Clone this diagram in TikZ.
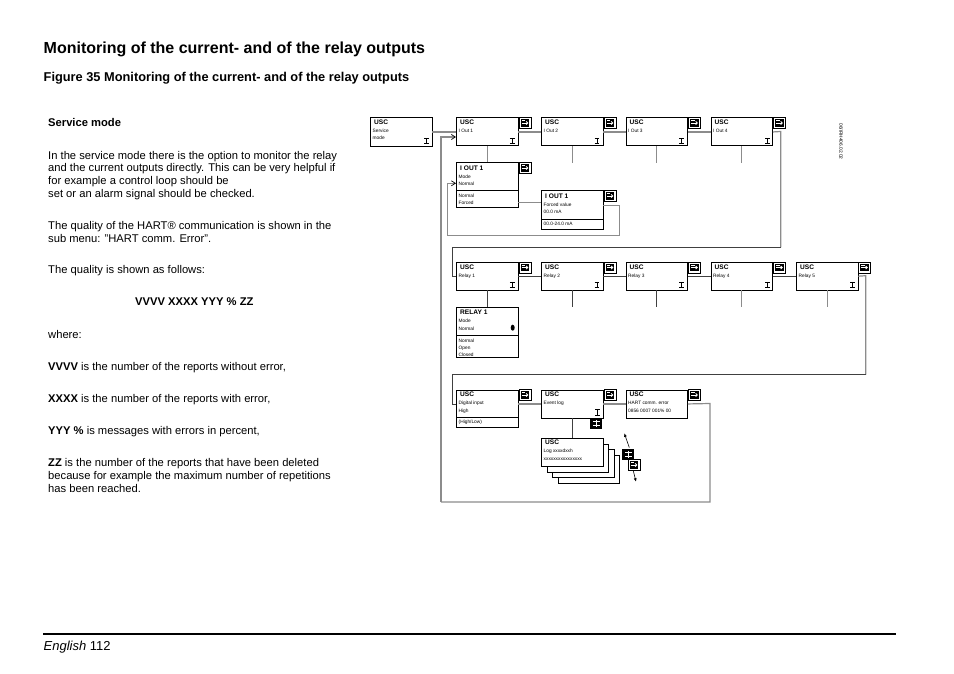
\documentclass[tikz,border=0pt]{standalone}
\usepackage{fontspec}
\setmainfont{Liberation Sans}
\usetikzlibrary{arrows.meta}
\definecolor{linkgray}{gray}{0.55}
\tikzset{
    menubox/.style={draw,line width=0.9,fill=white,minimum width=61.5,minimum height=28,inner sep=0},
    menutitle/.style={anchor=base west,inner sep=0,font=\fontsize{6.6}{7}\selectfont\bfseries},
    menutext/.style={anchor=base west,inner sep=0,font=\fontsize{4.8}{5}\selectfont},
    bodytext/.style={anchor=north west,inner sep=0,align=left,font=\fontsize{11.2}{12.8}\selectfont},
    graylink/.style={draw=linkgray,line width=1.2},
    darklink/.style={draw=black!75,line width=0.8},
    linktip/.style={-{Straight Barb[length=4,width=5,color=black,line width=0.7]}},
    pics/keyicon/.style={code={
        \draw[line width=1,fill=white] (0,0) rectangle (12,11);% outer frame
        \fill (1.6,1.6) rectangle (10.4,9.4);% black key
        \draw[white,line width=0.8,-{Straight Barb[length=1.6,width=3]}] (2.8,5.5) -- (9.4,5.5);% arrow on the key
        \draw[white,line width=0.5] (2.8,3.2) -- (6,3.2);
    }},
    pics/blackkey/.style={code={
        \fill (0,0) rectangle (12,11.5);% solid key
        \draw[white,line width=0.7] (2.5,4) -- (9.5,4) (2.5,7.5) -- (9.5,7.5) (6,2) -- (6,9.5);
    }},
    pics/cursor/.style={code={
        \draw[line width=0.7] (-2.4,-2.6) -- (2.4,-2.6) (0,-2.6) -- (0,2.6) (-2.4,2.6) -- (2.4,2.6);
    }},
}
% box, title and first text line
\newcommand{\menubox}[6][7.2]{%
    \node[menubox,anchor=north west,minimum height=#5] (#2) at (#3,#4) {};
    \node[menutitle] (#2title) at (#3+4,#4+#1) {\menuname};
    \node[menutext] (#2text) at (#3+2.5,#4+#1+8) {#6};
}
\newcommand{\menuname}{USC}
\begin{document}
\begin{tikzpicture}[x=1pt,y=-1pt]
    \useasboundingbox (0,0) rectangle (954,674);
    % Headings
    \node[anchor=base west,inner sep=0,font=\fontsize{16}{18}\selectfont\bfseries] (head) at (43.5,54) {Monitoring of the current- and of the relay outputs};
    \node[anchor=base west,inner sep=0,font=\fontsize{12.8}{14}\selectfont\bfseries] (figure) at (43.5,81.3) {Figure 35 Monitoring of the current- and of the relay outputs};
    % Left column
    \node[bodytext] (service) at (48,118.3) {\textbf{Service mode}};
    \node[bodytext] (intro) at (48,150.8) {In the service mode there is the option to monitor the relay\\and the current outputs directly. This can be very helpful if\\for example a control loop should be\\set or an alarm signal should be checked.};
    \node[bodytext] (hart) at (48,221.2) {The quality of the HART® communication is shown in the\\sub menu: "HART comm. Error".};
    \node[bodytext] (quality) at (48,265.5) {The quality is shown as follows:};
    \node[bodytext] (format) at (135,298) {\textbf{VVVV XXXX YYY \% ZZ}};
    \node[bodytext] (where) at (48,329.7) {where:};
    \node[bodytext] (vvvv) at (48,362.2) {\textbf{VVVV} is the number of the reports without error,};
    \node[bodytext] (xxxx) at (48,394.2) {\textbf{XXXX} is the number of the reports with error,};
    \node[bodytext] (yyy) at (48,426.2) {\textbf{YYY \%} is messages with errors in percent,};
    \node[bodytext] (zz) at (48,458.2) {\textbf{ZZ} is the number of the reports that have been deleted\\because for example the maximum number of repetitions\\has been reached.};
    % Footer
    \draw[line width=1.5] (43,634) -- (896,634);
    \node[anchor=base west,inner sep=0,font=\fontsize{13}{15}\selectfont] (page) at (43.5,650) {\textit{English} 112};
    % Drawing number
    \node[rotate=-90,inner sep=0,font=\fontsize{4.8}{5}\selectfont] (drawno) at (841,141.5) {06/IRH406.02.02};
    % First row
    \menubox{service}{370}{117}{29}{Service}
    \node[menutext] (servicetext2) at (372.5,139.8) {mode};
    \menubox{outa}{456}{117.5}{28}{I Out 1}
    \menubox{outb}{541}{117.5}{28}{I Out 2}
    \menubox{outc}{625.5}{117.5}{28}{I Out 3}
    \menubox{outd}{710.5}{117.5}{28}{I Out 4}
    \pic at (426.7,140.7) {cursor};
    \foreach \x in {512.3,597,681.5,767.5} \pic at (\x,140.7) {cursor};
    \foreach \x in {519,604,688.5,773.5} \pic at (\x,117.5) {keyicon};
    % I OUT 1 menu
    \renewcommand{\menuname}{I OUT 1}
    \menubox[8.2]{iout}{456}{162.5}{45}{Mode}
    \node[menutext] (iouttext2) at (458.5,185.3) {Normal};
    \draw[line width=0.8] (456,190.5) -- (517.5,190.5);
    \node[menutext] (iouttext3) at (458.5,197.2) {Normal};
    \node[menutext] (iouttext4) at (458.5,204.2) {Forced};
    \pic at (519,162.5) {keyicon};
    \menubox[8.2]{forced}{541}{190.5}{39}{Forced value}
    \node[menutext] (forcedtext2) at (543.5,214) {00.0 mA};
    \draw[line width=0.8] (541,219.5) -- (602.5,219.5);
    \node[menutext] (forcedtext3) at (543.5,225.7) {00.0-24.0 mA};
    \pic at (604,190.5) {keyicon};
    % Second row
    \renewcommand{\menuname}{USC}
    \menubox{relaya}{456}{262}{27.5}{Relay 1}
    \menubox{relayb}{541}{262}{27.5}{Relay 2}
    \menubox{relayc}{625.5}{262}{27.5}{Relay 3}
    \menubox{relayd}{710.5}{262}{27.5}{Relay 4}
    \menubox{relaye}{796}{262}{27.5}{Relay 5}
    \foreach \x in {512.3,597,681.5,767.5,852.5} \pic at (\x,284.5) {cursor};
    \foreach \x in {519,604,688.5,773.5,858.5} \pic at (\x,262) {keyicon};
    % RELAY 1 menu
    \renewcommand{\menuname}{RELAY 1}
    \menubox[8]{relay}{456}{306.7}{50.5}{Mode}
    \node[menutext] (relaytext2) at (458.5,330.3) {Normal};
    \draw[line width=0.8] (456,335.5) -- (517.5,335.5);
    \node[menutext] (relaytext3) at (458.5,342) {Normal};
    \node[menutext] (relaytext4) at (458.5,349) {Open};
    \node[menutext] (relaytext5) at (458.5,356) {Closed};
    \fill (512.7,327.7) ellipse (2 and 3);% the dot
    % Third row
    \renewcommand{\menuname}{USC}
    \menubox{input}{456}{389.5}{37}{Digital input}
    \node[menutext] (inputtext2) at (458.5,412) {High};
    \draw[line width=0.8] (456,417.5) -- (517.5,417.5);
    \node[menutext] (inputtext3) at (458.5,423.5) {(High/Low)};
    \menubox{event}{541}{389.5}{28}{Event log}
    \menubox{comm}{625.5}{389.5}{28}{HART comm. error}
    \node[menutext] (commtext2) at (628,412) {0856 0007 001\% 00};
    \pic at (597.7,412.3) {cursor};
    \foreach \x in {519,604,688.5} \pic at (\x,389.5) {keyicon};
    \pic at (590.3,417.8) {blackkey};
    % Log pages
    \node[menubox,anchor=north east] (pagec) at (620,454.5) {};
    \node[menubox,anchor=north east] (pageb) at (614.5,448.5) {};
    \node[menubox,anchor=north east] (pagea) at (609,443.5) {};
    \menubox{log}{541}{437.5}{28}{Log xxxxdxxh}
    \node[menutext] (logtext2) at (543.5,460) {xxxxxxxxxxxxxxxx};
    % Scroll keys
    \coordinate (upkey) at (629.3,447.5);
    \coordinate (uptip) at (624.3,433.3);
    \coordinate (downkey) at (633.3,470.7);
    \coordinate (downtip) at (636,481.7);
    \draw[line width=0.6,-{Latex[length=3.5,width=3]}] (upkey) -- (uptip);
    \draw[line width=0.6,-{Latex[length=3.5,width=3]}] (downkey) -- (downtip);
    \pic at (622.3,448.5) {blackkey};
    \pic at (628,459.5) {keyicon};
    % First row links
    \draw[graylink] (service.east) -- (outa.west);
    \draw[graylink] (outa.east) -- (outb.west);
    \draw[graylink] (outb.east) -- (outc.west);
    \draw[graylink] (outc.east) -- (outd.west);
    \draw[graylink] (outa.south) -- (iout.north);
    \draw[graylink] (outb.south) -- ++(0,16.5);
    \draw[graylink] (outc.south) -- ++(0,16.5);
    \draw[graylink] (outd.south) -- ++(0,16.5);
    % Menu links
    \draw[graylink] (iout.east |- 0,202.3) -- (forced.west |- 0,202.3);
    \draw[graylink] (forced.east |- 0,205.7) -| (619.3,235.7) -- (447.3,235.7);
    \draw[graylink,linktip] (447.3,235.7) |- (iout.west |- 0,183.3);
    % Row to row links
    \draw[graylink] (outd.east) -- (780.7,131.5) -- (780.7,247.3);
    \draw[darklink] (780.7,247.3) -- (452.3,247.3) |- (relaya.west);
    \draw[darklink] (relaya.east) -- (relayb.west);
    \draw[darklink] (relayb.east) -- (relayc.west);
    \draw[darklink] (relayc.east) -- (relayd.west);
    \draw[darklink] (relayd.east) -- (relaye.west);
    \draw[darklink] (relaya.south) -- (relay.north);
    \draw[darklink] (relayb.south) -- ++(0,17);
    \draw[darklink] (relayc.south) -- ++(0,17);
    \draw[graylink] (relayd.south) -- ++(0,17);
    \draw[graylink] (relaye.south) -- ++(0,17);
    \draw[graylink] (relaye.east) -- (865.7,275.7) -- (865.7,374.7);
    \draw[darklink] (865.7,374.7) -- (452.3,374.7) |- (input.west |- event.west);
    \draw[graylink] (input.east |- event.east) -- (event.west);
    \draw[graylink] (event.east) -- (comm.west);
    \draw[graylink] (comm.east) -- (710,403.5) -- (710,502) -- (441,502);
    \draw[graylink,linktip] (441,502) |- (outa.west |- 0,137);
    \draw[darklink] (event.south) -- (log.north);
\end{tikzpicture}
\end{document}
